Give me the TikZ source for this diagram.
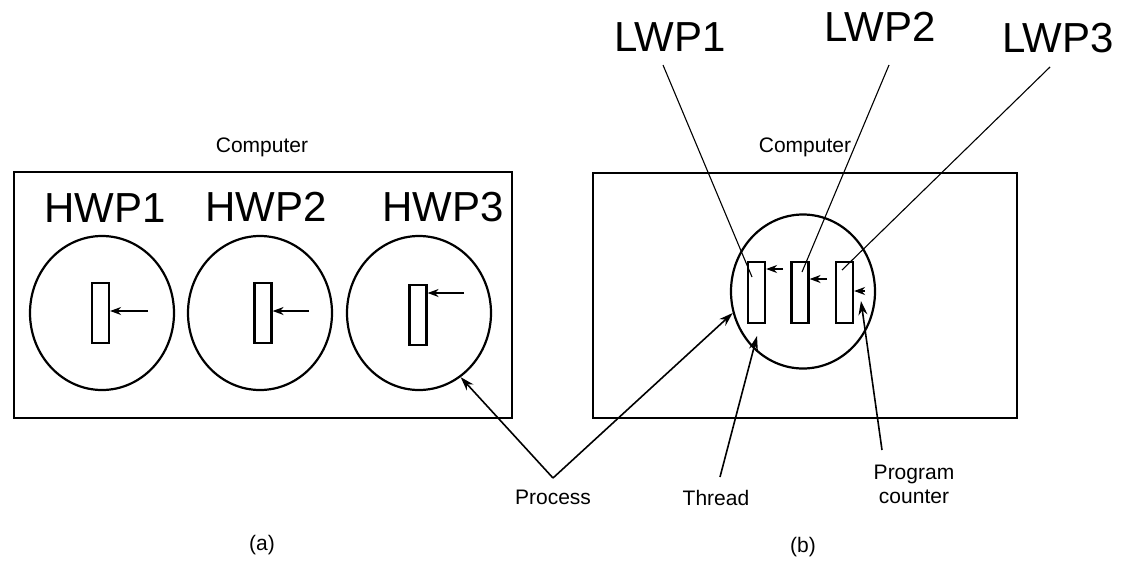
\documentclass[tikz,border=0pt]{standalone}
\usepackage{fontspec}
\setmainfont{Liberation Sans}
\usetikzlibrary{arrows.meta,shapes.geometric}

\begin{document}
\begin{tikzpicture}[x=1pt, y=-1pt,
      caixa/.style={draw, line width=2.4pt, inner sep=0pt},
      proc/.style={draw, ellipse, line width=2.2pt, minimum width=144pt, minimum height=154pt, inner sep=0pt},
      thr/.style={draw, rectangle, line width=2.2pt, minimum width=17pt, minimum height=60pt, inner sep=0pt},
      pcseta/.style={-{Stealth[length=11pt,width=8pt]}, line width=1.6pt},
      seta/.style={-{Stealth[length=14pt,width=9pt]}, line width=1.6pt},
      fio/.style={line width=1.1pt},
      rot/.style={font=\fontsize{21}{24}\selectfont, inner sep=0pt, align=center},
      hw/.style={font=\fontsize{42}{46}\selectfont, inner sep=0pt}]
    \useasboundingbox (0,0) rectangle (1122,560);

    \node[caixa, minimum width=498pt, minimum height=246pt] (ca) at (263,295) {};
    \node[caixa, minimum width=424pt, minimum height=245pt] (cb) at (805,295.5) {};
    \node[rot] (compa) at (262,147) {Computer};
    \node[rot] (compb) at (805,147) {Computer};

    \node[hw] (h1) at (105,208) {HWP1};
    \node[hw] (h2) at (266,207) {HWP2};
    \node[hw] (h3) at (443,207) {HWP3};

    \node[proc] (p1) at (102,313) {};
    \node[proc] (p2) at (260,313) {};
    \node[proc] (p3) at (419,313) {};
    \node[thr] (t1) at (100.5,313) {};
    \node[thr] (t2) at (263,313) {};
    \node[thr] (t3) at (418,315) {};
    \coordinate (c1) at (148,311);
    \coordinate (c2) at (309,311);
    \coordinate (c3) at (464,293);
    \draw[pcseta] (c1) -- (t1.east |- c1);
    \draw[pcseta] (c2) -- (t2.east |- c2);
    \draw[pcseta] (c3) -- (t3.east |- c3);

    \node[proc] (pb) at (803,291.5) {};
    \node[thr, minimum height=61pt] (tb1) at (756.5,292.5) {};
    \node[thr, minimum height=61pt] (tb2) at (800,292.5) {};
    \node[thr, minimum height=61pt] (tb3) at (844.5,292.5) {};
    \coordinate (cb1) at (783,269);
    \coordinate (cb2) at (827,279);
    \coordinate (cb3) at (865,291);
    \draw[pcseta] (cb1) -- (tb1.east |- cb1);
    \draw[pcseta] (cb2) -- (tb2.east |- cb2);
    \draw[pcseta] (cb3) -- (tb3.east |- cb3);

    \node[hw] (l1) at (670,37) {LWP1};
    \node[hw] (l2) at (880,27) {LWP2};
    \node[hw] (l3) at (1058,38) {LWP3};
    \coordinate (l1f) at (663,65);
    \coordinate (l2f) at (889,65);
    \coordinate (l3f) at (1050,67);
    \coordinate (tb1m) at (752,277);
    \coordinate (tb2m) at (802,272);
    \coordinate (tb3m) at (842,270);
    \draw[fio] (l1f) -- (tb1m);
    \draw[fio] (l2f) -- (tb2m);
    \draw[fio] (l3f) -- (tb3m);

    \node[rot] (plbl) at (553,497) {Process};
    \node[rot] (tlbl) at (716,498) {Thread};
    \node[rot] (pclbl) at (914,484) {Program\\counter};
    \coordinate (pj) at (553,478);
    \coordinate (tj) at (720,477);
    \coordinate (pcj) at (882,450);
    \coordinate (tpt) at (757,336);
    \coordinate (pcpt) at (861,301);
    \draw[seta] (pj) -- (p3.-57);
    \draw[seta] (pj) -- (pb.197);
    \draw[seta] (tj) -- (tpt);
    \draw[seta] (pcj) -- (pcpt);

    \node[rot] (sa) at (262,545) {(a)};
    \node[rot] (sb) at (803,547) {(b)};
  \end{tikzpicture}
\end{document}
